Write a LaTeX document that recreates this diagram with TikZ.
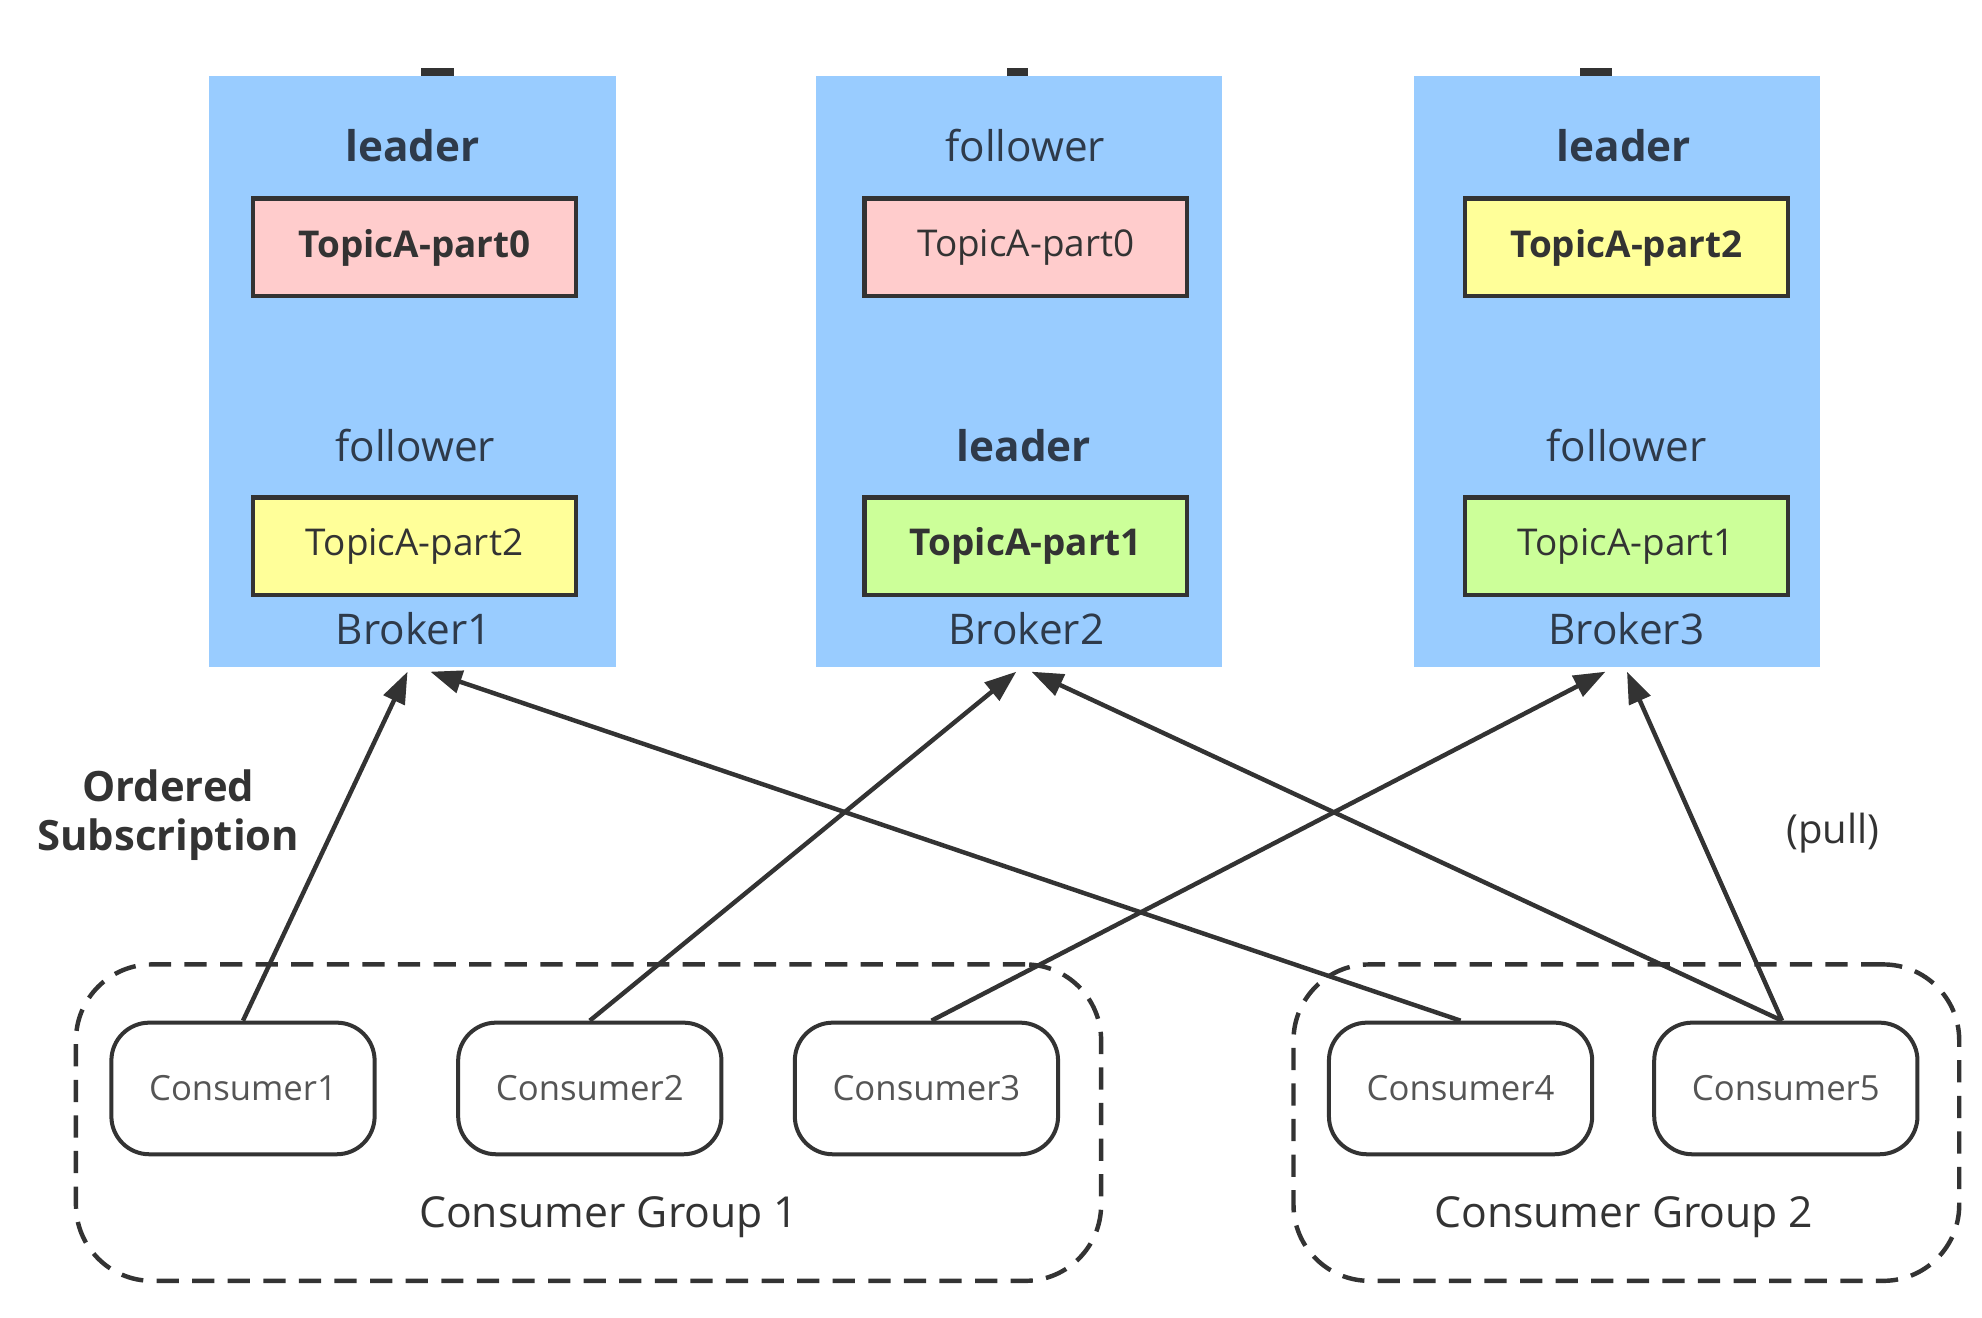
\documentclass[tikz,border=0pt]{standalone}
\usepackage{fontspec}
\setmainfont{Open Sans}
\usetikzlibrary{arrows.meta}
\definecolor{brokerblue}{HTML}{99CCFF}
\definecolor{partpink}{HTML}{FFCCCC}
\definecolor{partyellow}{HTML}{FFFF99}
\definecolor{partgreen}{HTML}{CCFF99}
\definecolor{inkdark}{HTML}{333333}
\definecolor{inkslate}{HTML}{2E3A4A}
\definecolor{inkgray}{HTML}{555555}
\begin{document}
\begin{tikzpicture}[x=0.1mm, y=-0.1mm,
		broker/.style={fill=brokerblue, minimum width=32.1mm, minimum height=46.7mm, inner sep=0pt},
		role/.style={text=inkslate, font=\fontsize{9.5}{11}\selectfont},
		part/.style={draw=inkdark, line width=1pt, minimum width=25.5mm, minimum height=7.7mm, inner sep=0pt, text=inkdark, font=\fontsize{8.3}{10}\selectfont},
		consumer/.style={draw=inkdark, line width=0.9pt, rounded corners=3mm, minimum width=20.8mm, minimum height=10.4mm, inner sep=0pt, text=inkgray, font=\fontsize{7.8}{9}\selectfont},
		group/.style={draw=inkdark, line width=1pt, dash pattern=on 5pt off 3pt, rounded corners=6mm, minimum height=25mm, inner sep=0pt},
		pullarrow/.style={draw=inkdark, line width=1pt, -{Triangle[length=2.5mm, width=1.8mm]}}]
	\useasboundingbox (0,0) rectangle (1566,1041);
	% tips poking out above the brokers
	\fill[inkdark] (333,54) rectangle (359,66);
	\fill[inkdark] (796,54) rectangle (812,66);
	\fill[inkdark] (1248,54) rectangle (1274,66);
	% brokers
	\node[broker] (b1) at (326,293.5) {};
	\node[broker] (b2) at (805,293.5) {};
	\node[broker] (b3) at (1277.5,293.5) {};
	\node[role, font=\fontsize{9.5}{11}\bfseries] (b1r0) at (326,115) {leader};
	\node[part, fill=partpink, font=\fontsize{8.3}{10}\bfseries] (b1p0) at (327.5,195.5) {TopicA-part0};
	\node[role] (b1r2) at (328,352) {follower};
	\node[part, fill=partyellow] (b1p2) at (327.5,431.5) {TopicA-part2};
	\node[role] (b1n) at (327,497) {Broker1};
	\node[role] (b2r0) at (810,115) {follower};
	\node[part, fill=partpink] (b2p0) at (810.5,195.5) {TopicA-part0};
	\node[role, font=\fontsize{9.5}{11}\bfseries] (b2r1) at (809,352) {leader};
	\node[part, fill=partgreen, font=\fontsize{8.3}{10}\bfseries] (b2p1) at (810.5,431.5) {TopicA-part1};
	\node[role] (b2n) at (811,497) {Broker2};
	\node[role, font=\fontsize{9.5}{11}\bfseries] (b3r2) at (1283,115) {leader};
	\node[part, fill=partyellow, font=\fontsize{8.3}{10}\bfseries] (b3p2) at (1285,195.5) {TopicA-part2};
	\node[role] (b3r1) at (1285,352) {follower};
	\node[part, fill=partgreen] (b3p1) at (1285,431.5) {TopicA-part1};
	\node[role] (b3n) at (1285,497) {Broker3};
	% consumer groups
	\node[group, minimum width=81mm] (g1) at (465,887) {};
	\node[group, minimum width=52.6mm] (g2) at (1285,887) {};
	\node[text=inkdark, font=\fontsize{9.6}{11}\selectfont] (g1n) at (481,962) {Consumer Group 1};
	\node[text=inkdark, font=\fontsize{9.6}{11}\selectfont] (g2n) at (1283,962) {Consumer Group 2};
	\node[consumer] (c1) at (192,860) {Consumer1};
	\node[consumer] (c2) at (466,860) {Consumer2};
	\node[consumer] (c3) at (732,860) {Consumer3};
	\node[consumer] (c4) at (1154,860) {Consumer4};
	\node[consumer] (c5) at (1411,860) {Consumer5};
	% labels
	\node[align=center, text=inkdark, font=\fontsize{9.4}{11}\bfseries] (ordered) at (133,644) {Ordered\\Subscription};
	\node[text=inkdark, font=\fontsize{9}{11}\selectfont] (pull) at (1448,658) {(pull)};
	% pulls
	\draw[pullarrow] (c1.north) -- ([xshift=-0.4mm, yshift=-0.3mm]b1.south);
	\draw[pullarrow] (c4.north) -- ([xshift=1.4mm, yshift=-0.3mm]b1.south);
	\draw[pullarrow] (c2.north) -- ([xshift=-0.2mm, yshift=-0.3mm]b2.south);
	\draw[pullarrow] ([xshift=-0.3mm]c5.north) -- ([xshift=1mm, yshift=-0.3mm]b2.south);
	\draw[pullarrow] ([xshift=0.4mm]c3.north) -- ([xshift=-0.9mm, yshift=-0.3mm]b3.south);
	\draw[pullarrow] ([xshift=-0.3mm]c5.north) -- ([xshift=0.8mm, yshift=-0.3mm]b3.south);
\end{tikzpicture}
\end{document}
